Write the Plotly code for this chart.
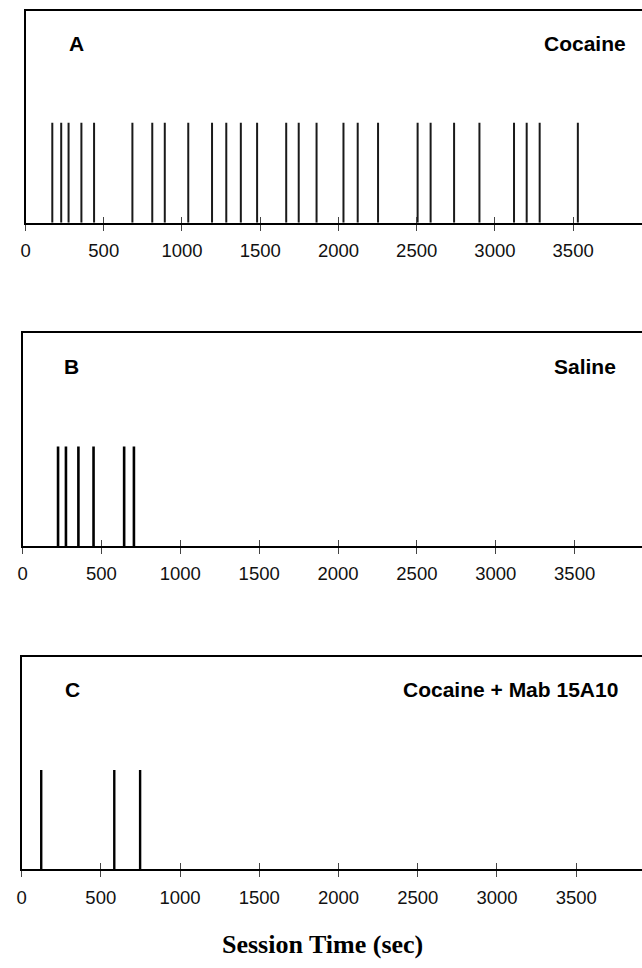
import plotly.graph_objects as go

# ---- data (session time in seconds of each response) ----
cocaine_times = [171, 228, 275, 357, 438, 683, 810, 890, 1040, 1192, 1283, 1376,
                 1480, 1666, 1746, 1860, 2032, 2123, 2253, 2506, 2589, 2739,
                 2901, 3122, 3203, 3286, 3530]
saline_times = [225, 275, 354, 450, 644, 706]
mab_times = [124, 585, 748]

panel_letters = ["A", "B", "C"]
panel_names = ["Cocaine", "Saline", "Cocaine + Mab 15A10"]
tick_values = [0, 500, 1000, 1500, 2000, 2500, 3000, 3500]
tick_labels = ["0", "500", "1000", "1500", "2000", "2500", "3000", "3500"]
x_title = "Session Time (sec)"

W, H = 642, 968


def py(px):
    return 1 - px / H


def pxx(px):
    return px / W


# panel geometry in pixels
panels = [
    dict(times=cocaine_times, left=20.7, top=11, bottom=222.7, xmax=3940, ymax=2.117, lw=2.0,
         color="#1a1a1a", lx=72, ly=44, rx=628, ry=44),
    dict(times=saline_times, left=17.7, top=333.3, bottom=546, xmax=3927, ymax=2.14, lw=2.6,
         color="#000000", lx=67.5, ly=366, rx=618, ry=366),
    dict(times=mab_times, left=16.7, top=656.7, bottom=869.3, xmax=3915, ymax=2.14, lw=2.4,
         color="#000000", lx=68, ly=689, rx=620, ry=689),
]

fig = go.Figure()
annotations = []
layout = {}

for i, p in enumerate(panels):
    n = i + 1
    xs, ys = [], []
    for t in p["times"]:
        xs += [t, t, None]
        ys += [0, 1, None]
    xa = "x" if n == 1 else f"x{n}"
    ya = "y" if n == 1 else f"y{n}"
    fig.add_trace(go.Scatter(x=xs, y=ys, mode="lines", xaxis=xa, yaxis=ya,
                             line=dict(color=p["color"], width=p["lw"]),
                             hoverinfo="skip", showlegend=False))
    # overlay axis used to draw the inner half of each tick mark
    xo = f"x{n + 3}"
    fig.add_trace(go.Scatter(x=[None], y=[None], xaxis=xo, yaxis=ya,
                             hoverinfo="skip", showlegend=False))

    xdom = [pxx(p["left"]), 1]
    ydom = [py(p["bottom"]), py(p["top"])]
    xkey = "xaxis" if n == 1 else f"xaxis{n}"
    ykey = "yaxis" if n == 1 else f"yaxis{n}"
    layout[xkey] = dict(domain=xdom, range=[0, p["xmax"]], anchor=ya,
                        showline=True, linecolor="black", linewidth=2, mirror=True,
                        showgrid=False, zeroline=False,
                        tickmode="array", tickvals=tick_values, ticktext=tick_labels,
                        ticks="outside", ticklen=6, tickwidth=1, tickcolor="#444",
                        ticklabelstandoff=4,
                        tickfont=dict(family="Liberation Sans, Arial", size=18.5, color="#111"),
                        fixedrange=True)
    layout[ykey] = dict(domain=ydom, range=[0, p["ymax"]], anchor=xa,
                        showline=True, linecolor="black", linewidth=2, mirror=False,
                        showgrid=False, zeroline=False, showticklabels=False, ticks="",
                        fixedrange=True)
    layout[f"xaxis{n + 3}"] = dict(overlaying=xa, anchor=ya, side="bottom",
                                   range=[0, p["xmax"]], showline=False, showgrid=False,
                                   zeroline=False, showticklabels=False,
                                   tickmode="array", tickvals=tick_values,
                                   ticks="inside", ticklen=6, tickwidth=1, tickcolor="#444",
                                   fixedrange=True)

    annotations.append(dict(text=f"<b>{panel_letters[i]}</b>", xref="paper", yref="paper",
                            x=pxx(p["lx"]), y=py(p["ly"]), xanchor="center", yanchor="middle",
                            showarrow=False,
                            font=dict(family="Liberation Sans, Arial", size=21, color="black")))
    annotations.append(dict(text=f"<b>{panel_names[i]}</b>", xref="paper", yref="paper",
                            x=pxx(p["rx"]), y=py(p["ry"]), xanchor="right", yanchor="middle",
                            showarrow=False,
                            font=dict(family="Liberation Sans, Arial", size=21, color="black")))

annotations.append(dict(text=f"<b>{x_title}</b>", xref="paper", yref="paper",
                        x=pxx(320), y=py(944), xanchor="center", yanchor="middle",
                        showarrow=False,
                        font=dict(family="Liberation Serif, Times New Roman", size=26, color="black")))

fig.update_layout(width=W, height=H, margin=dict(l=0, r=0, t=0, b=0),
                  paper_bgcolor="white", plot_bgcolor="white",
                  showlegend=False, annotations=annotations, **layout)

fig.write_html("out.html", config={"displayModeBar": False},
               post_script="document.body.style.margin='0';document.body.style.overflow='hidden';")
